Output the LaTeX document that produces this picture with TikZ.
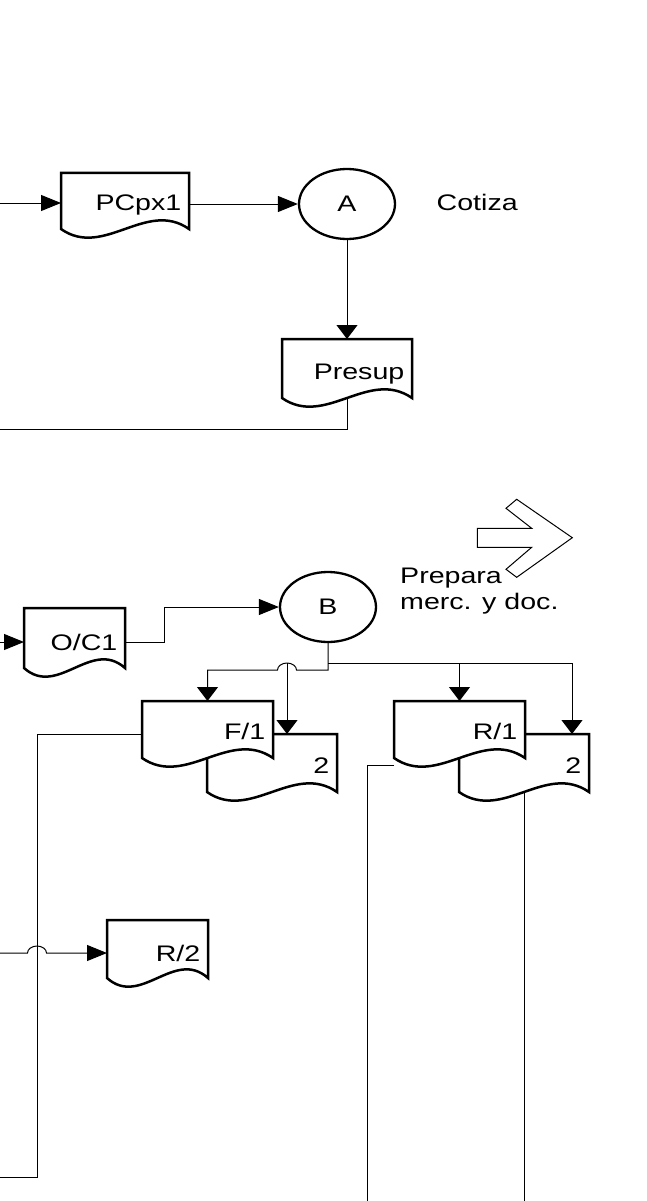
\documentclass[tikz,border=0pt]{standalone}
\usepackage{fontspec}
\newfontfamily\arl[FakeStretch=1.27]{Liberation Sans}
\usetikzlibrary{arrows.meta,calc,shapes.geometric}
\tikzset{
  docbox/.style={draw=none, inner sep=0pt, outer sep=0pt, rectangle},
  docline/.style={draw=black, fill=white, line width=2.5pt, line join=miter},
  lbl/.style={font=\arl\fontsize{22.5}{26}\selectfont, inner sep=0pt},
  doctext/.style={lbl, anchor=base east},
  conn/.style={line width=1pt},
  harr/.style={conn, -{Triangle[length=20pt,width=16pt]}},
  varr/.style={conn, -{Triangle[length=14pt,width=21pt]}},
  circ/.style={ellipse, draw, fill=white, line width=2.3pt, minimum width=96pt, minimum height=70pt, inner sep=0pt, font=\arl\fontsize{22.5}{26}\selectfont},
  hollow/.style={draw, line width=1pt, line join=miter}
}
% name, x, y, w, h, text, baseline offset
\newcommand\docshape[7]{%
  \node[docbox, minimum width=#4pt, minimum height=#5pt, anchor=north west] (#1) at (#2,#3) {};
  \path[docline] (#1.north west) -- (#1.north east) -- (#1.south east)
    .. controls ($(#1.south east)+(-#4/3,-30)$) and ($(#1.south west)+(#4/3,30)$) .. (#1.south west) -- cycle;
  \node[doctext] (#1-t) at ($(#1.north east)+(-7.5,#7)$) {#6};
}
\begin{document}
\begin{tikzpicture}[x=1pt,y=-1pt]
\useasboundingbox (0,0) rectangle (646,1201);
\coordinate (bot) at (0,1201);
% shapes
\docshape{pc}{61}{173}{128}{56}{PCpx1}{38}
\node[circ] (A) at (347,204) {A};
\node[lbl, anchor=base west] (cot) at (436.5,211) {Cotiza};
\docshape{ps}{282}{339}{130}{59}{Presup}{40}
\draw[hollow] (477.3,528.3) -- (531.7,528.3) -- (506,508.3) -- (516.7,499.3) -- (572.3,537.7)
  -- (516.7,577.3) -- (506,569.3) -- (531.7,547.3) -- (477.3,547.3) -- cycle;
\node[lbl, align=left, anchor=north west] (prep) at (400,568) {Prepara\\merc. y doc.};
\docshape{oc}{24}{608}{101}{60}{O/C1}{42}
\node[circ] (B) at (328,607) {B};
\docshape{f2}{207}{734}{130}{58}{2}{39}
\docshape{f1}{142}{701}{131}{57}{F/1}{38}
\docshape{r2}{459}{734}{130}{58}{2}{39}
\docshape{r1}{394}{701}{131}{57}{R/1}{38}
\docshape{rr}{107}{920}{101}{58}{R/2}{41}
% connectors
\coordinate (in1) at (0,203);
\draw[harr] (in1) -- (in1 -| pc.west);
\draw[harr] (pc.east |- A.west) -- (A.west);
\draw[varr] (A.south) -- (ps.north);
\coordinate (o1) at (0,429);
\draw[conn] (ps.south) |- (o1);
\coordinate (in2) at (0,642);
\draw[harr] (in2) -- (in2 -| oc.west);
\draw[harr] (oc.east |- in2) -- ++(39,0) |- (B.west);
\coordinate (jL) at (287,670);
\draw[varr] (B.south) -- (B.south |- jL) -- ($(jL)+(9.5,0)$)
  arc[start angle=0, end angle=180, x radius=9.5pt, y radius=7pt] -| (f1.north);
\coordinate (j1) at (287,663);
\draw[varr] (j1) -- (j1 |- f2.north);
\coordinate (k) at (328,663);
\coordinate (r2in) at (572,663);
\draw[varr] (k) -- (r2in) -- (r2in |- r2.north);
\draw[varr] (r1.north |- k) -- (r1.north);
\coordinate (c1) at (37,734);
\coordinate (c1b) at (0,1177);
\draw[conn] (f1.west |- c1) -- (c1) |- (c1b);
\coordinate (in3) at (0,953);
\draw[harr] (in3) -- ($(in3 -| c1)+(-9.5,0)$)
  arc[start angle=180, end angle=0, x radius=9.5pt, y radius=7pt] -- (in3 -| rr.west);
\coordinate (c2) at (367,765);
\draw[conn] (c2 -| r1.west) -- (c2) -- (c2 |- bot);
\draw[conn] (r2.south) -- (r2.south |- bot);
\end{tikzpicture}
\end{document}
